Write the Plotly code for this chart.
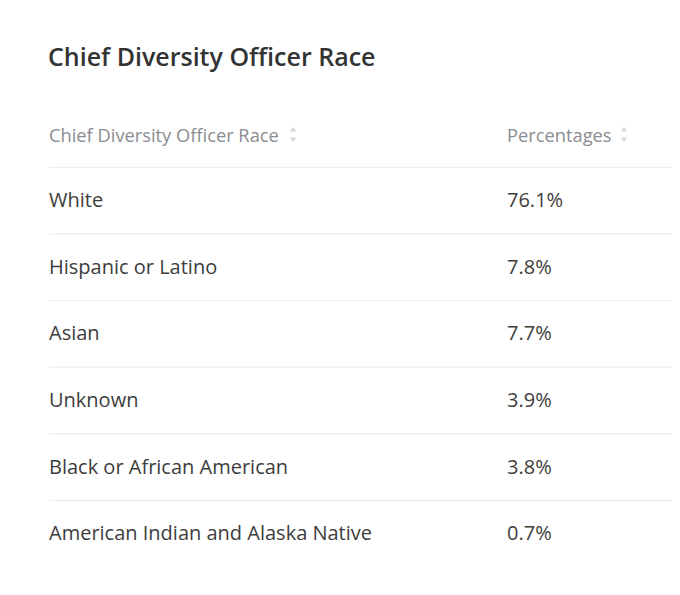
import plotly.graph_objects as go

title = "Chief Diversity Officer Race"
col_headers = ["Chief Diversity Officer Race", "Percentages"]
races = [
    "White",
    "Hispanic or Latino",
    "Asian",
    "Unknown",
    "Black or African American",
    "American Indian and Alaska Native",
]
percentages = [76.1, 7.8, 7.7, 3.9, 3.8, 0.7]

FONT = "Open Sans"
PAD = 8  # the page puts the figure 8px in from the top-left corner
W, H = 680 - 2 * PAD, 595 - 2 * PAD
ROW_H = 66.6
HEAD_Y = 134 - PAD  # pixel centre of header row
NUDGE = 1.5 / ROW_H  # text sits a touch low in the cells

rows = [i + NUDGE for i in range(1, len(races) + 1)]
x_name, x_pct = 49 - PAD, 507 - PAD

fig = go.Figure()

# header cells
fig.add_trace(go.Scatter(
    x=[x_name, x_pct], y=[2 * NUDGE] * 2, mode="text",
    text=col_headers, textposition="middle right",
    textfont=dict(family=FONT, size=18.3, color="#8a8d91"),
    hoverinfo="skip", showlegend=False,
))

# sort arrows next to the headers
sort_x = [293 - PAD, 624 - PAD]
fig.add_trace(go.Scatter(
    x=sort_x, y=[-0.06] * 2, mode="markers",
    marker=dict(symbol="triangle-up", size=6, color="#d6d8db"),
    hoverinfo="skip", showlegend=False,
))
fig.add_trace(go.Scatter(
    x=sort_x, y=[0.075] * 2, mode="markers",
    marker=dict(symbol="triangle-down", size=6, color="#d6d8db"),
    hoverinfo="skip", showlegend=False,
))

# body cells
fig.add_trace(go.Scatter(
    x=[x_name] * len(races), y=rows, mode="text",
    text=races, textposition="middle right",
    textfont=dict(family=FONT, size=20, color="#3d3d3d"),
    hoverinfo="skip", showlegend=False,
))
fig.add_trace(go.Scatter(
    x=[x_pct] * len(races), y=rows, mode="text",
    text=[f"{p}%" for p in percentages], textposition="middle right",
    textfont=dict(family=FONT, size=20, color="#3d3d3d"),
    hoverinfo="skip", showlegend=False,
))

# row separators
for i in range(len(races)):
    fig.add_shape(type="line", x0=x_name, x1=W, y0=i + 0.5, y1=i + 0.5,
                  line=dict(color="#eeeeee", width=1.2), layer="below")

fig.add_annotation(
    text=title, x=x_name - 3, y=1 - (56 - PAD) / H, xref="x", yref="paper",
    showarrow=False, xanchor="left", yanchor="middle",
    font=dict(family=FONT, size=25, color="#333333", weight=600),
)

fig.update_layout(
    width=W, height=H,
    margin=dict(l=0, r=0, t=0, b=0),
    paper_bgcolor="white", plot_bgcolor="white",
    xaxis=dict(range=[0, W], visible=False, fixedrange=True),
    yaxis=dict(range=[(H - HEAD_Y) / ROW_H, -HEAD_Y / ROW_H],
               visible=False, fixedrange=True),
)

fig.write_html("out.html")
